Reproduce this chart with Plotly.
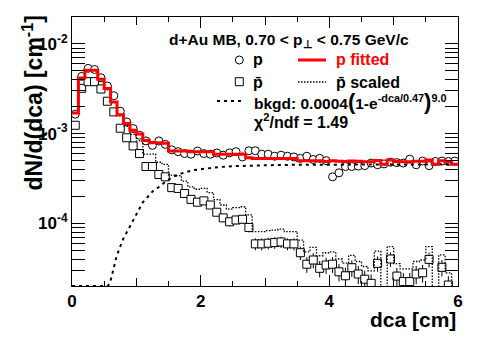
import math
import plotly.graph_objects as go

# ---- binning (60 bins of 0.1 cm between 0 and 6 cm) ----
n_bins = 60
bin_width = 0.1
dca_edges = [round(i * bin_width, 2) for i in range(n_bins + 1)]
dca_centers = [round((i + 0.5) * bin_width, 3) for i in range(n_bins)]

# ---- proton data dN/d(dca) ----
p_data = [
    1.65e-3, 4.35e-3, 5.35e-3, 5.2e-3, 4.2e-3, 3.4e-3, 2.65e-3, 1.78e-3, 1.35e-3, 1.14e-3,
    9.6e-4, 8.3e-4, 7.4e-4, 8.3e-4, 7.6e-4, 6.6e-4, 6.3e-4, 6.0e-4, 5.9e-4, 6.4e-4,
    6.0e-4, 5.9e-4, 6.1e-4, 5.75e-4, 6.1e-4, 6.3e-4, 5.5e-4, 6.45e-4, 6.45e-4, 5.9e-4,
    5.9e-4, 5.6e-4, 5.75e-4, 5.6e-4, 5.5e-4, 5.3e-4, 5.6e-4, 5.15e-4, 5.3e-4, 5.0e-4,
    3.3e-4, 3.66e-4, 4.3e-4, 4.3e-4, 4.35e-4, 4.4e-4, 4.7e-4, 4.5e-4, 4.6e-4, 4.8e-4,
    4.75e-4, 4.7e-4, 5.2e-4, 4.5e-4, 4.95e-4, 4.4e-4, 4.9e-4, 4.95e-4, 4.9e-4, 4.95e-4,
]

# ---- antiproton data (0 = empty bin) ----
pbar_data = [
    1.24e-3, 3.2e-3, 3.8e-3, 3.8e-3, 3.15e-3, 2.3e-3, 1.75e-3, 1.15e-3, 9.0e-4, 7.3e-4,
    6.0e-4, 4.3e-4, 4.3e-4, 3.5e-4, 3.3e-4, 2.5e-4, 2.45e-4, 2.15e-4, 1.85e-4, 1.72e-4,
    1.78e-4, 1.6e-4, 1.33e-4, 1.15e-4, 1.04e-4, 1.09e-4, 1.11e-4, 9.0e-5, 5.9e-5, 5.9e-5,
    6.0e-5, 6.1e-5, 6.2e-5, 5.9e-5, 5.9e-5, 4.7e-5, 3.5e-5, 3.9e-5, 3.15e-5, 3.43e-5,
    3.5e-5, 2.88e-5, 2.6e-5, 3.2e-5, 2.72e-5, 2.38e-5, 2.14e-5, 3.58e-5, 0.0, 4.0e-5,
    2.58e-5, 2.24e-5, 2.24e-5, 2.72e-5, 2.81e-5, 3.96e-5, 0.0, 3.23e-5, 2.05e-5, 0.0,
]
pbar_err = [
    4e-5, 7e-5, 8e-5, 8e-5, 7e-5, 6e-5, 5e-5, 4e-5, 3.5e-5, 3e-5,
    2.8e-5, 2.4e-5, 2.4e-5, 2.2e-5, 2.1e-5, 1.8e-5, 1.8e-5, 1.7e-5, 1.6e-5, 1.5e-5,
    1.5e-5, 1.4e-5, 1.3e-5, 1.2e-5, 1.15e-5, 1.2e-5, 1.2e-5, 1.1e-5, 9e-6, 9e-6,
    9e-6, 9e-6, 9e-6, 9e-6, 9e-6, 8e-6, 7e-6, 7.5e-6, 6.5e-6, 7e-6,
    7e-6, 6.3e-6, 6e-6, 6.7e-6, 6.2e-6, 5.8e-6, 5.5e-6, 7e-6, 0.0, 7.5e-6,
    6e-6, 5.5e-6, 5.5e-6, 6.2e-6, 6.3e-6, 7.5e-6, 0.0, 6.7e-6, 5.3e-6, 0.0,
]

# ---- scaled antiproton template used in the fit ----
pbar_scaled = [
    1.70e-3, 4.18e-3, 5.08e-3, 5.08e-3, 4.04e-3, 3.17e-3, 2.24e-3, 1.58e-3, 1.21e-3, 9.8e-4,
    8.3e-4, 5.9e-4, 5.9e-4, 4.8e-4, 4.55e-4, 3.45e-4, 3.4e-4, 2.95e-4, 2.55e-4, 2.4e-4,
    2.45e-4, 2.2e-4, 1.84e-4, 1.6e-4, 1.44e-4, 1.5e-4, 1.53e-4, 1.24e-4, 8.1e-5, 8.1e-5,
    8.3e-5, 8.4e-5, 8.6e-5, 8.1e-5, 8.1e-5, 6.5e-5, 4.8e-5, 5.4e-5, 4.35e-5, 4.7e-5,
    4.8e-5, 4.0e-5, 3.6e-5, 4.4e-5, 3.75e-5, 3.3e-5, 2.95e-5, 4.9e-5, 0.0, 5.5e-5,
    3.55e-5, 3.1e-5, 3.1e-5, 3.75e-5, 3.9e-5, 5.5e-5, 0.0, 4.45e-5, 2.8e-5, 0.0,
]

# ---- total fit (scaled template + background) ----
p_fit = [
    1.70e-3, 4.18e-3, 5.08e-3, 5.08e-3, 4.04e-3, 3.18e-3, 2.26e-3, 1.63e-3, 1.30e-3, 1.09e-3,
    9.9e-4, 8.4e-4, 7.9e-4, 7.9e-4, 7.8e-4, 6.4e-4, 6.4e-4, 6.4e-4, 6.3e-4, 6.3e-4,
    6.3e-4, 6.3e-4, 5.9e-4, 5.9e-4, 5.9e-4, 5.9e-4, 5.9e-4, 5.4e-4, 5.3e-4, 5.3e-4,
    5.3e-4, 5.3e-4, 5.3e-4, 5.3e-4, 5.3e-4, 5.0e-4, 5.0e-4, 5.0e-4, 5.0e-4, 4.9e-4,
    5.0e-4, 4.93e-4, 4.9e-4, 4.97e-4, 4.92e-4, 4.87e-4, 4.85e-4, 5.02e-4, 4.55e-4, 5.08e-4,
    4.9e-4, 4.85e-4, 4.85e-4, 4.92e-4, 4.93e-4, 5.08e-4, 4.55e-4, 4.98e-4, 4.83e-4, 4.55e-4,
]

# ---- background curve samples ----
bkg_dca = [0.0, 0.55, 0.59, 0.64, 0.69, 0.74, 0.80, 0.87, 0.95, 1.03, 1.10, 1.18, 1.26, 1.34,
           1.45, 1.57, 1.70, 1.88, 2.09, 2.30, 2.56, 2.80, 3.20, 3.60, 4.00, 4.50, 5.00, 5.50, 6.00]
bkg_val = [2.0e-5, 2.0e-5, 2.14e-5, 3.0e-5, 4.2e-5, 5.3e-5, 6.8e-5, 8.4e-5, 1.09e-4, 1.40e-4,
           1.71e-4, 1.98e-4, 2.30e-4, 2.51e-4, 2.9e-4, 3.3e-4, 3.6e-4, 3.92e-4, 4.09e-4, 4.25e-4,
           4.35e-4, 4.42e-4, 4.47e-4, 4.5e-4, 4.52e-4, 4.53e-4, 4.54e-4, 4.55e-4, 4.55e-4]

for arr in (p_data, pbar_data, pbar_err, pbar_scaled, p_fit):
    assert len(arr) == n_bins

Y_MIN, Y_MAX = 2e-5, 2e-2
FLOOR = 1e-7  # empty bins are drawn down past the bottom of the frame

FONT = "Liberation Sans, Arial, Helvetica, sans-serif"
DOTTED = "1.5px,1.5px"


def step_xy(values):
    """Histogram outline: left bin edges plus the last right edge."""
    xs = dca_edges[:-1] + [dca_edges[-1]]
    ys = [v if v > 0 else FLOOR for v in values]
    ys = ys + [ys[-1]]
    return xs, ys


fig = go.Figure()

# antiprotons: open squares with vertical error bars
pb_x = [c for c, v in zip(dca_centers, pbar_data) if v > 0]
pb_y = [v for v in pbar_data if v > 0]
pb_e = [e for e, v in zip(pbar_err, pbar_data) if v > 0]
fig.add_trace(go.Scatter(
    x=pb_x, y=pb_y, mode="markers",
    marker=dict(symbol="square", size=8, color="white", line=dict(color="black", width=1)),
    error_y=dict(type="data", array=pb_e, color="black", thickness=1, width=0),
    hoverinfo="skip",
))

# protons: open circles
fig.add_trace(go.Scatter(
    x=dca_centers, y=p_data, mode="markers",
    marker=dict(symbol="circle", size=8, color="white", line=dict(color="black", width=1)),
    hoverinfo="skip",
))

# scaled antiproton template (dotted histogram)
sx, sy = step_xy(pbar_scaled)
fig.add_trace(go.Scatter(
    x=sx, y=sy, mode="lines", line=dict(color="black", width=1.3, dash=DOTTED, shape="hv"),
    hoverinfo="skip",
))

# background (dashed)
fig.add_trace(go.Scatter(
    x=bkg_dca, y=bkg_val, mode="lines", line=dict(color="black", width=2, dash="3px,4px"),
    hoverinfo="skip",
))

# total fit (red histogram)
fx, fy = step_xy(p_fit)
fig.add_trace(go.Scatter(
    x=fx, y=fy, mode="lines", line=dict(color="#ff0000", width=3, shape="hv"),
    hoverinfo="skip",
))

# second (overlaid) x axis carrying only the unlabelled integer ticks
fig.add_trace(go.Scatter(x=[], y=[], xaxis="x2", yaxis="y", hoverinfo="skip"))

# ---- axes ----
x_major = [0, 2, 4, 6]
x_mid = [1, 3, 5]
x_minor = [0.5, 1.5, 2.5, 3.5, 4.5, 5.5]
y_major = [1e-4, 1e-3, 1e-2]
y_labels = ["10<sup>-4</sup>", "10<sup>-3</sup>", "10<sup>-2</sup>"]
y_minor = [m * 10 ** d for d in (-5, -4, -3, -2) for m in range(2, 10)
           if Y_MIN < m * 10 ** d < Y_MAX]

tick_font = dict(family=FONT, size=17, color="black", weight="bold")

fig.update_layout(
    xaxis=dict(
        range=[0, 6], tickmode="array", tickvals=x_major, ticklen=11,
        showline=True, linecolor="black", linewidth=1, mirror="allticks",
        ticks="inside", tickcolor="black", tickwidth=1,
        showgrid=False, zeroline=False, tickfont=tick_font,
        minor=dict(tickmode="array", tickvals=x_minor, ticks="inside", ticklen=5,
                   tickcolor="black", showgrid=False),
    ),
    xaxis2=dict(
        range=[0, 6], overlaying="x", side="bottom", anchor="y",
        tickmode="array", tickvals=x_mid, ticks="inside", ticklen=8,
        tickcolor="black", tickwidth=1, showticklabels=False,
        showline=False, mirror="allticks", showgrid=False, zeroline=False,
    ),
    yaxis=dict(
        type="log", range=[math.log10(Y_MIN), math.log10(Y_MAX)],
        tickmode="array", tickvals=y_major, ticktext=y_labels, ticklen=13,
        showline=True, linecolor="black", linewidth=1, mirror="allticks",
        ticks="inside", tickcolor="black", tickwidth=1,
        showgrid=False, zeroline=False, tickfont=tick_font,
        minor=dict(tickmode="array", tickvals=y_minor, ticks="inside", ticklen=6.5,
                   tickcolor="black", showgrid=False),
    ),
)

# ---- geometry helpers for the in-frame legend (pixel -> paper) ----
W, H = 483, 337
ML, MR, MT, MB = 72, 25, 17, 51
PW, PH = W - ML - MR, H - MT - MB


def px(x):
    return (x - ML) / PW


def py(y):
    return (H - MB - y) / PH


def txt(x, y, text, size=16, color="black", anchor="left"):
    fig.add_annotation(
        x=px(x), y=py(y), xref="paper", yref="paper", text=text, showarrow=False,
        xanchor=anchor, yanchor="middle",
        font=dict(family=FONT, size=size, color=color, weight="bold"),
    )


def hline(x0, x1, y, color, width, dash):
    fig.add_shape(type="line", xref="paper", yref="paper",
                  x0=px(x0), x1=px(x1), y0=py(y), y1=py(y),
                  line=dict(color=color, width=width, dash=dash))


# axis titles
fig.add_annotation(
    x=px(458), y=py(319), xref="paper", yref="paper", text="dca [cm]", showarrow=False,
    xanchor="right", yanchor="middle",
    font=dict(family=FONT, size=21, color="black", weight="bold"),
)
fig.add_annotation(
    x=px(32), y=py(14), xref="paper", yref="paper", text="dN/d(dca) [cm<sup>-1</sup>]",
    showarrow=False, textangle=-90, xanchor="center", yanchor="top",
    font=dict(family=FONT, size=23, color="black", weight="bold"),
)

# legend block
txt(167, 40, "d+Au MB, 0.70 &lt; p<sub>⊥</sub> &lt; 0.75 GeV/c", size=15.5)

fig.add_shape(type="circle", xref="paper", yref="paper",
              x0=px(235.3), x1=px(243.3), y0=py(56), y1=py(64),
              line=dict(color="black", width=1), fillcolor="white")
txt(251, 60, "p")
hline(298, 326, 60, "#ff0000", 3, "solid")
txt(334, 60, "p fitted", color="#ff0000")

fig.add_shape(type="rect", xref="paper", yref="paper",
              x0=px(235.3), x1=px(243.3), y0=py(77.7), y1=py(85.7),
              line=dict(color="black", width=1), fillcolor="white")
txt(251, 82, "p\u0304")
hline(298, 326, 82, "black", 1.3, DOTTED)
txt(334, 82, "p\u0304 scaled")

hline(217, 242, 101, "black", 2, "3px,4px")
txt(252, 101, "bkgd: 0.0004<span style='font-size:22px'>(</span>1-e<sup>-dca/0.47</sup>"
              "<span style='font-size:22px'>)</span><sup>9.0</sup>", size=15.5)
txt(252, 121, "χ<sup>2</sup>/ndf = 1.49")

fig.update_layout(
    width=W, height=H, margin=dict(l=ML, r=MR, t=MT, b=MB, pad=0),
    paper_bgcolor="white", plot_bgcolor="white", showlegend=False,
)

fig.write_html("out.html")
